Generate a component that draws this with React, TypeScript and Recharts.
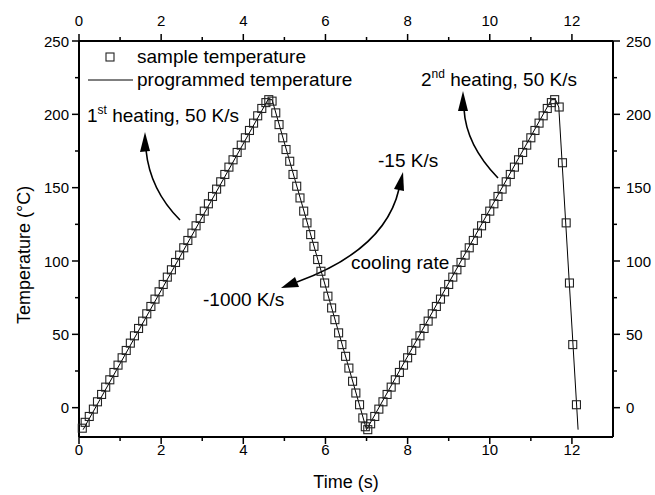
import React from 'react';
import { ComposedChart, Line, Scatter, XAxis, YAxis, Legend, Customized } from 'recharts';

// programmed temperature profile (time s, temperature °C)
const programmed: [number, number][] = [
  [0.1, -15], [4.6, 210], [4.7, 210], [7.0, -15], [11.5, 210], [11.6, 210], [11.68, 205], [12.15, -15],
];

const heating1: [number, number][] = [
  [0.08, -14], [0.15, -10], [0.25, -6], [0.35, -1], [0.45, 4], [0.55, 9], [0.65, 14], [0.75, 19], [0.85, 24],
  [0.95, 29], [1.05, 34], [1.15, 39], [1.25, 44], [1.35, 49], [1.45, 54], [1.55, 59], [1.65, 64], [1.75, 69],
  [1.85, 74], [1.95, 79], [2.05, 84], [2.15, 89], [2.25, 94], [2.35, 99], [2.45, 104], [2.55, 109], [2.65, 114],
  [2.75, 119], [2.85, 124], [2.95, 129], [3.05, 134], [3.15, 139], [3.25, 144], [3.35, 149], [3.45, 154],
  [3.55, 159], [3.65, 164], [3.75, 169], [3.85, 174], [3.95, 179], [4.05, 184], [4.15, 189], [4.25, 194],
  [4.35, 199], [4.45, 204], [4.55, 208], [4.62, 210], [4.7, 209],
];

const cooling1: [number, number][] = [
  [4.79, 201], [4.87, 193], [4.96, 184], [5.04, 176], [5.13, 168], [5.21, 159], [5.3, 151], [5.38, 143],
  [5.47, 134], [5.55, 126], [5.64, 118], [5.72, 110], [5.81, 101], [5.89, 93], [5.98, 85], [6.06, 76],
  [6.15, 68], [6.23, 60], [6.32, 51], [6.4, 43], [6.49, 35], [6.57, 27], [6.66, 18], [6.74, 10], [6.83, 2],
  [6.91, -7], [6.97, -13], [7.03, -15],
];

const heating2: [number, number][] = [
  [7.1, -11], [7.2, -6], [7.3, -1], [7.4, 4], [7.5, 9], [7.6, 14], [7.7, 19], [7.8, 24], [7.9, 29], [8.0, 34],
  [8.1, 39], [8.2, 44], [8.3, 49], [8.4, 54], [8.5, 59], [8.6, 64], [8.7, 69], [8.8, 74], [8.9, 79], [9.0, 84],
  [9.1, 89], [9.2, 94], [9.3, 99], [9.4, 104], [9.5, 109], [9.6, 114], [9.7, 119], [9.8, 124], [9.9, 129],
  [10.0, 134], [10.1, 139], [10.2, 144], [10.3, 149], [10.4, 154], [10.5, 159], [10.6, 164], [10.7, 169],
  [10.8, 174], [10.9, 179], [11.0, 184], [11.1, 189], [11.2, 194], [11.3, 199], [11.4, 204], [11.5, 208],
  [11.58, 210],
];

const cooling2: [number, number][] = [
  [11.69, 205], [11.77, 167], [11.86, 126], [11.94, 85], [12.02, 43], [12.11, 2],
];

const xTicks = [0, 1, 2, 3, 4, 5, 6, 7, 8, 9, 10, 11, 12];
const xMajor = [0, 2, 4, 6, 8, 10, 12];
const yTicks = [0, 25, 50, 75, 100, 125, 150, 175, 200, 225, 250];
const yMajor = [0, 50, 100, 150, 200, 250];

const toRows = (pts: [number, number][]) => pts.map(([t, T]) => ({ t, T }));
const lineData = toRows(programmed);
const sampleData = toRows([...heating1, ...cooling1, ...heating2, ...cooling2]);

const FONT = '"Liberation Sans", Arial, Helvetica, sans-serif';
const MAJ = 7;
const MIN = 4;

const BottomTick = ({ x, y, payload }: any) => {
  const major = xMajor.includes(payload.value);
  return (
    <g>
      <line x1={x} y1={y} x2={x} y2={y + (major ? MAJ : MIN)} stroke="#000" strokeWidth={1.5} />
      {major && <text x={x} y={y + 18} textAnchor="middle" fontSize={15} fontFamily={FONT} fill="#000">{payload.value}</text>}
    </g>
  );
};

const TopTick = ({ x, y, payload }: any) => {
  const major = xMajor.includes(payload.value);
  return (
    <g>
      <line x1={x} y1={y} x2={x} y2={y - (major ? MAJ : MIN)} stroke="#000" strokeWidth={1.5} />
      {major && <text x={x} y={y - 15} textAnchor="middle" fontSize={15} fontFamily={FONT} fill="#000">{payload.value}</text>}
    </g>
  );
};

const LeftTick = ({ x, y, payload }: any) => {
  const major = yMajor.includes(payload.value);
  return (
    <g>
      <line x1={x} y1={y} x2={x - (major ? MAJ : MIN)} y2={y} stroke="#000" strokeWidth={1.5} />
      {major && <text x={x - 10} y={y + 5.5} textAnchor="end" fontSize={15} fontFamily={FONT} fill="#000">{payload.value}</text>}
    </g>
  );
};

const RightTick = ({ x, y, payload }: any) => {
  const major = yMajor.includes(payload.value);
  return (
    <g>
      <line x1={x} y1={y} x2={x + (major ? MAJ : MIN)} y2={y} stroke="#000" strokeWidth={1.5} />
      {major && <text x={x + 13} y={y + 5.5} textAnchor="start" fontSize={15} fontFamily={FONT} fill="#000">{payload.value}</text>}
    </g>
  );
};

const YTitle = ({ viewBox }: any) => {
  const cx = viewBox.x + 30;
  const cy = viewBox.y + viewBox.height / 2 + 16;
  return (
    <text x={cx} y={cy} transform={`rotate(-90 ${cx} ${cy})`} textAnchor="middle" fontSize={18} fontFamily={FONT} fill="#000">
      Temperature (°C)
    </text>
  );
};

const HollowSquare = ({ cx, cy }: any) => (
  <rect x={cx - 4} y={cy - 4} width={8} height={8} fill="none" stroke="#222" strokeWidth={1.1} />
);

const LegendBox = () => (
  <svg width={280} height={50} style={{ display: 'block' }}>
    <rect x={26} y={9} width={8} height={8} fill="none" stroke="#222" strokeWidth={1.1} />
    <text x={57} y={19} fontSize={19} fontFamily={FONT} fill="#000">sample temperature</text>
    <line x1={8} y1={36} x2={53} y2={36} stroke="#000" strokeWidth={1} />
    <text x={57} y={42} fontSize={19} fontFamily={FONT} fill="#000">programmed temperature</text>
  </svg>
);

const Annotations = () => (
  <g fontFamily={FONT} fill="#000">
    <text x={87} y={122} fontSize={19}>1<tspan fontSize={12} dy={-8}>st</tspan><tspan dy={8}> heating, 50 K/s</tspan></text>
    <text x={421} y={86} fontSize={19}>2<tspan fontSize={12} dy={-8}>nd</tspan><tspan dy={8}> heating, 50 K/s</tspan></text>
    <text x={378} y={167} fontSize={19}>-15 K/s</text>
    <text x={351} y={269} fontSize={19}>cooling rate</text>
    <text x={203} y={306} fontSize={19}>-1000 K/s</text>
    <path d="M180,220 Q150,190 146,150" fill="none" stroke="#000" strokeWidth={1.6} />
    <polygon points="145,132 140,152 150,151" fill="#000" />
    <path d="M498,178 Q466,145 464,109" fill="none" stroke="#000" strokeWidth={1.6} />
    <polygon points="463,91 458,111 468,111" fill="#000" />
    <path d="M399,189 Q385,250 297,282" fill="none" stroke="#000" strokeWidth={1.6} />
    <polygon points="403,172 404,191 394,189" fill="#000" />
    <polygon points="281,288 299,287 295,277" fill="#000" />
  </g>
);

export default function App() {
  return (
    <div style={{ position: 'absolute', left: 0, top: 0, width: 655, height: 495, background: '#fff' }}>
      <ComposedChart width={655} height={495} margin={{ top: 0, right: 0, bottom: 0, left: 0 }}>
        <XAxis xAxisId="bottom" type="number" dataKey="t" domain={[0, 13]} ticks={xTicks} interval={0}
          orientation="bottom" height={58} tickSize={0} tickMargin={0} tick={<BottomTick />}
          axisLine={{ stroke: '#000', strokeWidth: 2 }} tickLine={false}
          label={{ value: 'Time (s)', position: 'insideBottom', offset: 7, fontSize: 18, fontFamily: FONT, fill: '#000' }} />
        <XAxis xAxisId="top" type="number" dataKey="t" domain={[0, 13]} ticks={xTicks} interval={0}
          orientation="top" height={41} tickSize={0} tickMargin={0} tick={<TopTick />}
          axisLine={{ stroke: '#000', strokeWidth: 2 }} tickLine={false} />
        <YAxis yAxisId="left" type="number" dataKey="T" domain={[-20, 250]} ticks={yTicks} interval={0}
          orientation="left" width={79} tickSize={0} tickMargin={0} tick={<LeftTick />}
          axisLine={{ stroke: '#000', strokeWidth: 2 }} tickLine={false}
          label={{ content: <YTitle /> }} />
        <YAxis yAxisId="right" type="number" dataKey="T" domain={[-20, 250]} ticks={yTicks} interval={0}
          orientation="right" width={42} tickSize={0} tickMargin={0} tick={<RightTick />}
          axisLine={{ stroke: '#000', strokeWidth: 2 }} tickLine={false} />
        <Line xAxisId="bottom" yAxisId="left" data={lineData} dataKey="T" type="linear" stroke="#000"
          strokeWidth={1} dot={false} isAnimationActive={false} name="programmed temperature" />
        <Scatter xAxisId="top" yAxisId="right" data={sampleData} dataKey="T" shape={<HollowSquare />}
          isAnimationActive={false} name="sample temperature" />
        <Legend layout="vertical" align="center" verticalAlign="middle" content={<LegendBox />}
          wrapperStyle={{ left: 80, top: 44, width: 280, height: 50 }} />
        <Customized component={<Annotations />} />
      </ComposedChart>
    </div>
  );
}
